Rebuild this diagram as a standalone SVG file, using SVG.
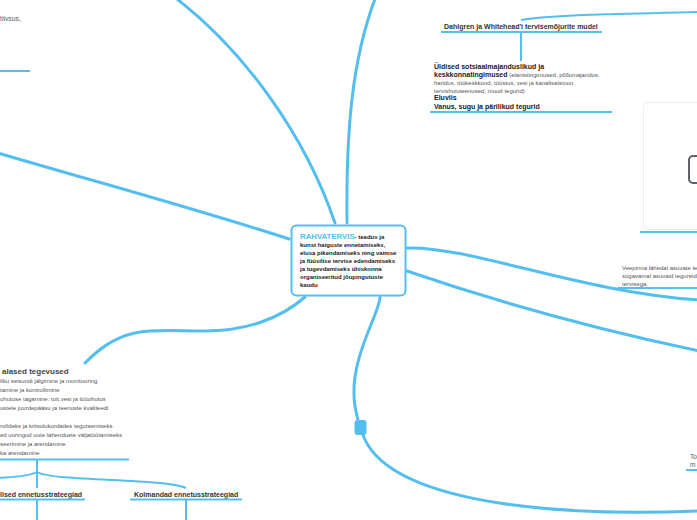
<svg xmlns="http://www.w3.org/2000/svg" width="697" height="520" viewBox="0 0 697 520">
<style>
text{font-family:"Liberation Sans",Arial,sans-serif}
.c{fill:none;stroke:#54bfef;stroke-width:3;stroke-linecap:round}
.u{fill:none;stroke:#54bfef;stroke-width:2}
.t{font-size:7px;font-weight:bold;fill:#333}
.s{font-size:6px;fill:#555}
.r{font-size:6px;font-weight:bold;fill:#222}
.b{font-size:7px;font-weight:bold;fill:#222}
</style>
<rect width="697" height="520" fill="#fff"/>
<g id="connectors">
<path class="c" d="M347 223C346 130 352 60 375 -1"/>
<path class="c" d="M335 223C305 135 245 52 177 -1"/>
<path class="c" d="M289 239C200 210 100 183 -2 153"/>
<path class="c" d="M407 248C470 246 580 292 699 300"/>
<path class="c" d="M407 271C500 303 600 330 699 351"/>
<path class="c" d="M380 297C380 312 352 355 354 395C354 405 356 412 358 420"/>
<path class="c" d="M363 435C385 495 520 518 699 511"/>
<path class="c" d="M305 297C280 319 245 331 205 331C175 331 155 329 135 333C112 338 97 351 85 363"/>
<path class="u" d="M521 20C560 14 630 14 699 12"/>
<path class="u" d="M521 32V61"/>
<path class="u" d="M37 460V488"/>
<path class="u" d="M37 472C28 477 12 477 -2 478"/>
<path class="u" d="M37 472C55 482 165 478 186 488"/>
<path class="u" d="M37 500V520"/>
<path class="u" d="M186 500V520"/>
</g>
<g id="root">
<rect x="291.500" y="225.500" width="114" height="70" rx="5" fill="#fff" stroke="#54bfef" stroke-width="2"/>
<text x="300" y="239" font-size="7.800" font-weight="bold" fill="#54bfef">RAHVATERVIS<tspan fill="#222" font-size="6px">- teadus ja</tspan></text>
<text class="r" x="300" y="247">kunst haiguste ennetamiseks,</text>
<text class="r" x="300" y="255">elusa pikendamiseks ning vaimse</text>
<text class="r" x="300" y="263">ja füüsilise tervise edendamiseks</text>
<text class="r" x="300" y="271">ja tugevdamiseks ühiskonna</text>
<text class="r" x="300" y="279">organiseeritud jõupingutuste</text>
<text class="r" x="300" y="287">kaudu</text>
</g>
<g id="node-dahlgren">
<text class="t" x="444" y="29">Dahlgren ja Whitehead'i tervisemõjurite mudel</text>
<path class="u" d="M441 32H602"/>
</g>
<g id="node-determinants">
<text class="b" x="434" y="68.500">Üldised sotsiaalmajanduslikud ja</text>
<text x="434" y="76.500"><tspan class="b">keskkonnatingimused</tspan><tspan class="s"> (elanistingimused, põllumajandus,</tspan></text>
<text class="s" x="434" y="84.500">haridus, töökeskkond, tööstus, vesi ja kanalisatsioon,</text>
<text class="s" x="434" y="92.500">tervishoiuteenused, muud tegurid)</text>
<text class="b" x="434" y="100">Eluviis</text>
<text class="b" x="434" y="108.500">Vanus, sugu ja pärilikud tegurid</text>
<path class="u" d="M430 112H612"/>
</g>
<g id="node-card">
<rect x="643.500" y="102.500" width="70" height="127" rx="4" fill="#fff" stroke="#eee"/>
<rect x="689" y="156" width="20" height="27" rx="4" fill="none" stroke="#5d6268" stroke-width="2"/>
<path class="u" d="M640 232H697"/>
</g>
<g id="node-water">
<text class="s" x="622" y="269.500">Veepinna lähedal asuvate te</text>
<text class="s" x="622" y="277.500">sügavamal asuvaid tegureid</text>
<text class="s" x="622" y="285.500">tervisega.</text>
<path class="u" d="M618 288H697"/>
</g>
<g id="node-topleft">
<text x="0" y="20.500" font-size="6.800px" fill="#555">tiivsus,</text>
<path class="u" d="M0 71H30"/>
</g>
<g id="node-activities">
<text x="2" y="374" font-size="8px" font-weight="bold" fill="#444">alased tegevused</text>
<text class="s" x="0" y="383">ilku seisundi jälgimine ja monitooring</text>
<text class="s" x="0" y="392">tamine ja kontrollimine</text>
<text class="s" x="0" y="401">ohutuse tagamine: toit,vesi ja tööohutus</text>
<text class="s" x="0" y="410">ustele juurdepääsu ja teenuste kvaliteedi</text>
<text class="s" x="0" y="428">rofideks ja kriisolukordades tegutsemiseks</text>
<text class="s" x="0" y="437">ed uuringud uute lahenduste väljatöötamiseks</text>
<text class="s" x="0" y="446">seerimine ja arendamine</text>
<text class="s" x="0" y="455">ka arendamine</text>
<path class="u" d="M0 459.500H129"/>
</g>
<g id="node-secondary">
<text class="t" x="0" y="496.500">lised ennetusstrateegiad</text>
<path class="u" d="M0 499.500H85"/>
</g>
<g id="node-tertiary">
<text class="t" x="134" y="496.500">Kolmandad ennetusstrateegiad</text>
<path class="u" d="M130 499.500H242"/>
</g>
<g id="node-small">
<rect x="354.500" y="420" width="12" height="15" rx="3" fill="#54bfef"/>
</g>
<g id="node-to">
<text x="690" y="459" font-size="6.500px" fill="#555">To</text>
<text x="690" y="467" font-size="6.500px" fill="#555">m</text>
<path class="u" d="M686 470H697"/>
</g>
</svg>
